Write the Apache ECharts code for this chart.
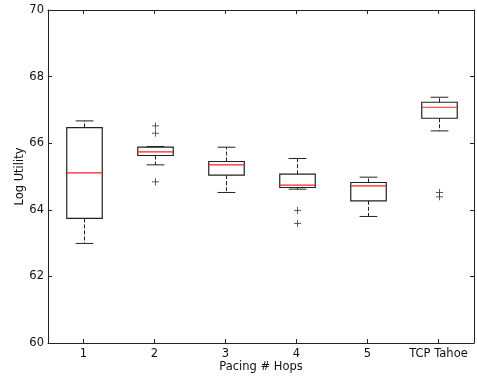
<!DOCTYPE html>
<html>
<head>
<meta charset="utf-8">
<script src="https://cdn.jsdelivr.net/npm/echarts@6/dist/echarts.min.js"></script>
<style>html,body{margin:0;padding:0;background:#fff}#c{width:477px;height:377px}</style>
</head>
<body>
<div id="c"></div>
<script>
var categories = ['1', '2', '3', '4', '5', 'TCP Tahoe'];
// [lower whisker, Q1, median, Q3, upper whisker]
var lowWhisker = [62.99, 65.35, 64.52, 64.62, 63.80, 66.37];
var q1 = [63.74, 65.63, 65.04, 64.67, 64.27, 66.75];
var medians = [65.11, 65.74, 65.35, 64.74, 64.72, 67.08];
var q3 = [66.47, 65.88, 65.45, 65.07, 64.82, 67.23];
var highWhisker = [66.67, 65.90, 65.88, 65.54, 64.98, 67.38];
// outliers: [category index, value]
var outlierCat = [1, 1, 1, 3, 3, 5, 5];
var outlierVal = [66.52, 66.30, 64.84, 63.98, 63.59, 64.52, 64.39];
var yTicks = [60, 62, 64, 66, 68, 70];

var boxData = categories.map(function (c, i) {
  return [i, lowWhisker[i], q1[i], medians[i], q3[i], highWhisker[i]];
});
var flierData = outlierCat.map(function (c, i) { return [c, outlierVal[i]]; });

var FONT = 'DejaVu Sans';
var FS = 11.5;
var chart = echarts.init(document.getElementById('c'), null, {renderer: 'canvas'});

function renderBox(params, api) {
  var x = api.value(0);
  var lo = api.coord([x, api.value(1)]);
  var b1 = api.coord([x, api.value(2)]);
  var md = api.coord([x, api.value(3)]);
  var b3 = api.coord([x, api.value(4)]);
  var hi = api.coord([x, api.value(5)]);
  var bw = api.size([1, 0])[0] * 0.5;
  var cx = Math.round(lo[0]) + 0.5;
  var half = bw / 2, capHalf = bw / 4;
  var black = '#222';
  return {
    type: 'group',
    children: [
      {type: 'line', shape: {x1: cx, y1: b1[1], x2: cx, y2: lo[1]},
        style: {stroke: black, lineWidth: 1, lineDash: [4, 2]}},
      {type: 'line', shape: {x1: cx, y1: b3[1], x2: cx, y2: hi[1]},
        style: {stroke: black, lineWidth: 1, lineDash: [4, 2]}},
      {type: 'line', shape: {x1: cx - capHalf, y1: lo[1], x2: cx + capHalf, y2: lo[1]},
        style: {stroke: black, lineWidth: 1}},
      {type: 'line', shape: {x1: cx - capHalf, y1: hi[1], x2: cx + capHalf, y2: hi[1]},
        style: {stroke: black, lineWidth: 1}},
      {type: 'rect', shape: {x: cx - half, y: b3[1], width: bw, height: b1[1] - b3[1]},
        style: {stroke: black, fill: 'none', lineWidth: 1.2}},
      {type: 'line', shape: {x1: cx - half, y1: md[1], x2: cx + half, y2: md[1]},
        style: {stroke: '#ff2020', lineWidth: 1.2}}
    ]
  };
}

function renderFlier(params, api) {
  var p = api.coord([api.value(0), api.value(1)]);
  var cx = Math.round(p[0]) + 0.5, s = 3.5;
  return {
    type: 'group',
    children: [
      {type: 'line', shape: {x1: cx - s, y1: p[1], x2: cx + s, y2: p[1]}, style: {stroke: '#333', lineWidth: 0.8}},
      {type: 'line', shape: {x1: cx, y1: p[1] - s, x2: cx, y2: p[1] + s}, style: {stroke: '#333', lineWidth: 0.8}}
    ]
  };
}

var axisLineStyle = {show: true, lineStyle: {color: '#222', width: 1}};
var tickStyle = {show: true, inside: true, alignWithLabel: true, interval: 0, length: 4, lineStyle: {color: '#222'}};
var option = {
  backgroundColor: '#fff',
  animation: false,
  textStyle: {fontFamily: FONT},
  grid: {left: 48, right: 3, top: 10, bottom: 34, containLabel: false, outerBoundsMode: 'none'},
  xAxis: [{
    type: 'category', data: categories, boundaryGap: true, position: 'bottom',
    axisLine: axisLineStyle,
    axisTick: tickStyle,
    axisLabel: {color: '#111', fontSize: FS, fontFamily: FONT, margin: 5, interval: 0},
    name: 'Pacing # Hops', nameLocation: 'middle', nameGap: 18, nameMoveOverlap: false,
    nameTextStyle: {color: '#111', fontSize: FS, fontFamily: FONT},
    splitLine: {show: false}
  }, {
    type: 'category', data: categories, boundaryGap: true, position: 'top',
    axisLine: axisLineStyle,
    axisTick: tickStyle,
    axisLabel: {show: false}, splitLine: {show: false}
  }],
  yAxis: [{
    type: 'value', min: 60, max: 70, interval: 2, position: 'left',
    axisLine: axisLineStyle,
    axisTick: {show: true, inside: true, length: 4, lineStyle: {color: '#222'}},
    axisLabel: {color: '#111', fontSize: FS, fontFamily: FONT, margin: 4,
      formatter: function (v) { return yTicks.indexOf(v) >= 0 ? String(v) : ''; }},
    name: 'Log Utility', nameLocation: 'middle', nameGap: 22, nameRotate: 90, nameMoveOverlap: false,
    nameTextStyle: {color: '#111', fontSize: FS, fontFamily: FONT},
    splitLine: {show: false}
  }, {
    type: 'value', min: 60, max: 70, interval: 2, position: 'right',
    axisLine: axisLineStyle,
    axisTick: {show: true, inside: true, length: 4, lineStyle: {color: '#222'}},
    axisLabel: {show: false}, splitLine: {show: false}
  }],
  series: [{
    type: 'custom', renderItem: renderBox, data: boxData,
    encode: {x: 0, y: [1, 2, 3, 4, 5]}, xAxisIndex: 0, yAxisIndex: 0, silent: true
  }, {
    type: 'custom', renderItem: renderFlier, data: flierData,
    encode: {x: 0, y: 1}, xAxisIndex: 0, yAxisIndex: 0, silent: true
  }]
};
chart.setOption(option);
</script>
</body>
</html>
